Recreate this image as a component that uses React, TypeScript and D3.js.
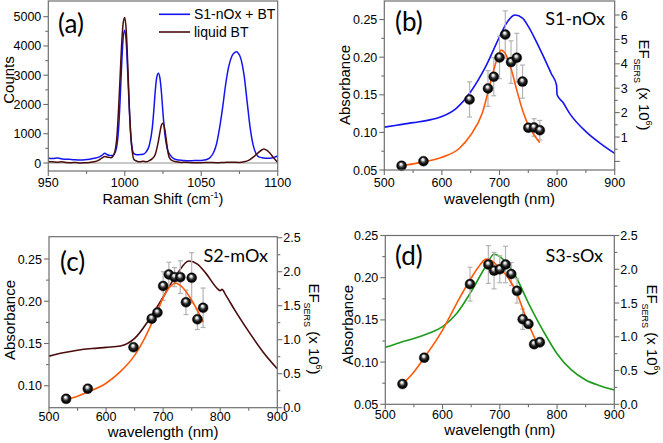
import React from "react";
import * as d3 from "d3";

type Pt = [number, number];

// ---------- (a) Raman spectra ----------
const ramanBlue: Pt[] = [
  [950, 160], [953, 150], [956, 170], [959, 140], [962, 130], [965, 120], [968, 110], [971, 100],
  [974, 110], [977, 130], [980, 160], [983, 200], [985, 260], [987, 330], [988, 300], [990, 260],
  [992, 260], [994, 400], [996, 1200], [997, 2200], [998, 3400], [999, 4300], [1000, 4540],
  [1001, 4100], [1002, 3000], [1003, 1800], [1004, 900], [1005, 450], [1006, 320], [1008, 280],
  [1010, 290], [1012, 300], [1014, 380], [1016, 600], [1018, 1200], [1019, 1800], [1020, 2500],
  [1021, 2950], [1022, 3070], [1023, 2900], [1024, 2400], [1025, 1700], [1026, 1100], [1027, 700],
  [1028, 450], [1030, 250], [1032, 150], [1035, 100], [1038, 90], [1041, 80], [1044, 80], [1047, 90],
  [1050, 90], [1052, 100], [1054, 130], [1056, 200], [1058, 350], [1060, 650], [1062, 1200],
  [1064, 1900], [1066, 2700], [1068, 3300], [1070, 3650], [1072, 3780], [1073, 3800], [1074, 3770],
  [1076, 3550], [1078, 3000], [1080, 2100], [1082, 1200], [1084, 600], [1086, 300], [1088, 200],
  [1090, 180], [1093, 160], [1096, 170], [1098, 200], [1100, 240],
];
const ramanBrown: Pt[] = [
  [950, 50], [953, 40], [956, 30], [959, 40], [962, 20], [965, 10], [968, 20], [971, 0], [974, 10],
  [977, 20], [980, 40], [983, 100], [985, 170], [987, 220], [989, 200], [991, 180], [993, 300],
  [995, 1000], [996, 1900], [997, 3000], [998, 4100], [999, 4800], [1000, 4970], [1001, 4500],
  [1002, 3300], [1003, 1900], [1004, 900], [1005, 350], [1006, 120], [1008, 60], [1010, 40],
  [1012, 60], [1014, 40], [1016, 80], [1018, 150], [1020, 300], [1021, 500], [1022, 750],
  [1023, 1050], [1024, 1300], [1025, 1360], [1026, 1200], [1027, 850], [1028, 450], [1029, 200],
  [1031, 80], [1034, 40], [1037, 20], [1040, 30], [1045, 10], [1050, 10], [1055, 20], [1060, 10],
  [1065, 20], [1070, 30], [1075, 20], [1078, 40], [1081, 90], [1084, 200], [1087, 340], [1090, 460],
  [1091, 480], [1093, 430], [1095, 330], [1097, 200], [1099, 80], [1100, 30],
];
const legendA = ["S1-nOx + BT", "liquid BT"];
const countTicks = [0, 1000, 2000, 3000, 4000, 5000];
const shiftTicks = [950, 1000, 1050, 1100];

// ---------- shared ----------
const wlTicks = [500, 600, 700, 800, 900];
const efWavelengths = [530, 568, 648, 680, 690, 700, 710, 720, 730, 740, 750, 760, 770];

// ---------- (b) S1-nOx ----------
const absorbanceB: Pt[] = [
  [500, 0.107], [525, 0.11], [550, 0.113], [575, 0.116], [600, 0.121], [625, 0.132], [650, 0.154],
  [675, 0.186], [700, 0.227], [712, 0.245], [727, 0.256], [740, 0.252], [750, 0.241], [765, 0.219],
  [775, 0.203], [790, 0.178], [799, 0.163], [800, 0.15], [810, 0.14], [822, 0.125], [850, 0.101],
  [875, 0.0854], [900, 0.072],
];
const efValuesB = [-0.18, 0.01, 2.54, 2.99, 3.47, 4.26, 5.2, 4.07, 4.25, 3.27, 1.38, 1.39, 1.28];
const efErrorsB = [0, 0, 0.72, 0.73, 0.78, 0.87, 0.97, 0.87, 1.0, 0.68, 0.15, 0.36, 0.4];
const efFitB: Pt[] = [
  [530, -0.18], [550, -0.1], [568, -0.02], [600, 0.17], [630, 0.53], [650, 1.08], [670, 1.97],
  [685, 3.3], [695, 4.15], [703, 4.56], [710, 4.43], [720, 3.81], [730, 2.92], [740, 2.1],
  [750, 1.49], [760, 1.08], [770, 0.77],
];
const absTicksB = [0.05, 0.1, 0.15, 0.2, 0.25];
const efTicksB = [1, 2, 3, 4, 5, 6];

// ---------- (c) S2-mOx ----------
const absorbanceC: Pt[] = [
  [500, 0.135], [525, 0.139], [550, 0.142], [575, 0.144], [600, 0.1454], [625, 0.147], [650, 0.156],
  [675, 0.178], [700, 0.205], [725, 0.233], [745, 0.2476], [760, 0.244], [775, 0.233], [795, 0.215],
  [800, 0.2125], [803, 0.214], [810, 0.207], [825, 0.19], [850, 0.164], [875, 0.14], [900, 0.12],
];
const efValuesC = [0.13, 0.28, 0.89, 1.31, 1.4, 1.79, 1.96, 1.92, 1.92, 1.55, 1.91, 1.3, 1.47];
const efErrorsC = [0.02, 0.03, 0.05, 0.04, 0.06, 0.21, 0.18, 0.14, 0.24, 0.18, 0.37, 0.15, 0.29];
const efFitC: Pt[] = [
  [530, 0.12], [550, 0.17], [568, 0.23], [600, 0.36], [625, 0.53], [650, 0.77], [665, 0.98],
  [680, 1.24], [690, 1.42], [700, 1.62], [712, 1.78], [722, 1.83], [735, 1.76], [750, 1.58],
  [760, 1.43], [770, 1.26],
];
const absTicksC = [0.1, 0.15, 0.2, 0.25];
const efTicksCD = [0, 0.5, 1, 1.5, 2, 2.5];

// ---------- (d) S3-sOx ----------
const absorbanceD: Pt[] = [
  [500, 0.1175], [525, 0.123], [550, 0.128], [575, 0.134], [600, 0.142], [625, 0.158],
  [650, 0.1835], [675, 0.213], [690, 0.2277], [700, 0.225], [712, 0.217], [725, 0.205],
  [750, 0.17], [775, 0.138], [800, 0.11], [825, 0.0907], [850, 0.0788], [875, 0.072], [900, 0.067],
];
const efValuesD = [0.3, 0.69, 1.78, 2.07, 1.98, 2.0, 2.07, 1.93, 1.68, 1.26, 1.19, 0.89, 0.92];
const efErrorsD = [0.02, 0.05, 0.25, 0.28, 0.27, 0.2, 0.27, 0.17, 0.18, 0.15, 0.06, 0.05, 0.07];
const efFitD: Pt[] = [
  [530, 0.3], [550, 0.48], [568, 0.69], [600, 1.1], [625, 1.5], [650, 1.87], [665, 2.06],
  [676, 2.15], [690, 2.1], [700, 2.01], [715, 1.87], [730, 1.64], [745, 1.3], [760, 1.0], [768, 0.88],
];
const absTicksD = [0.05, 0.1, 0.15, 0.2, 0.25];

// ---------- styling ----------
const FONT = "'Liberation Sans', Arial, sans-serif";
const LFONT = "Lato, 'Open Sans', sans-serif";
const AXIS = "#6e6e6e";
const BLUE = "#1414f0";
const BROWN = "#4a0c0c";
const ORANGE = "#ff5a0a";
const GREEN = "#1c9a1c";
const ERR = "#b4b4b4";

const mid = (a: number[]) => a.slice(0, -1).map((v, i) => (v + a[i + 1]) / 2);

type Scale = d3.ScaleLinear<number, number>;

function Frame({ x, y }: { x: Scale; y: Scale }) {
  const [x0, x1] = x.range();
  const [y1, y0] = y.range();
  return <rect x={x0} y={y0} width={x1 - x0} height={y1 - y0} fill="none" stroke={AXIS} strokeWidth={1.2} />;
}

function LeftAxis({ x, y, ticks, minor, fmt }: { x: Scale; y: Scale; ticks: number[]; minor: number[]; fmt: (v: number) => string }) {
  const x0 = x.range()[0];
  return (
    <g>
      {minor.map((t) => <line key={"m" + t} x1={x0 - 3} x2={x0} y1={y(t)} y2={y(t)} stroke={AXIS} strokeWidth={1.1} />)}
      {ticks.map((t) => (
        <g key={t}>
          <line x1={x0 - 5} x2={x0} y1={y(t)} y2={y(t)} stroke={AXIS} strokeWidth={1.1} />
          <text x={x0 - 7} y={y(t)} dy="0.36em" textAnchor="end" fontSize={12.5} fontFamily={FONT}>{fmt(t)}</text>
        </g>
      ))}
    </g>
  );
}

function RightAxis({ x, y, ticks, labels, minor, fmt }: { x: Scale; y: Scale; ticks: number[]; labels: number[]; minor: number[]; fmt: (v: number) => string }) {
  const x1 = x.range()[1];
  return (
    <g>
      {minor.map((t) => <line key={"m" + t} x1={x1} x2={x1 + 3} y1={y(t)} y2={y(t)} stroke={AXIS} strokeWidth={1.1} />)}
      {ticks.map((t) => <line key={t} x1={x1} x2={x1 + 5} y1={y(t)} y2={y(t)} stroke={AXIS} strokeWidth={1.1} />)}
      {labels.map((t) => (
        <text key={"l" + t} x={x1 + 6} y={y(t)} dy="0.36em" textAnchor="start" fontSize={12.5} fontFamily={FONT}>{fmt(t)}</text>
      ))}
    </g>
  );
}

function BottomAxis({ x, y, ticks, minor, labelY }: { x: Scale; y: Scale; ticks: number[]; minor: number[]; labelY: number }) {
  const y1 = y.range()[0];
  return (
    <g>
      {minor.map((t) => <line key={"m" + t} x1={x(t)} x2={x(t)} y1={y1} y2={y1 + 3} stroke={AXIS} strokeWidth={1.1} />)}
      {ticks.map((t) => (
        <g key={t}>
          <line x1={x(t)} x2={x(t)} y1={y1} y2={y1 + 5} stroke={AXIS} strokeWidth={1.1} />
          <text x={x(t)} y={labelY} textAnchor="middle" fontSize={12.5} fontFamily={FONT}>{t}</text>
        </g>
      ))}
    </g>
  );
}

function EFTitle({ cx, cy }: { cx: number; cy: number }) {
  return (
    <text transform={`translate(${cx - 5},${cy}) rotate(90)`} textAnchor="middle" fontSize={15} fontFamily={FONT}>
      EF
      <tspan fontSize={9} dy={5}>SERS</tspan>
      <tspan fontSize={15} dy={-5}> (x 10</tspan>
      <tspan fontSize={9} dy={-7}>6</tspan>
      <tspan fontSize={15} dy={7}>)</tspan>
    </text>
  );
}

function Sphere({ cx, cy }: { cx: number; cy: number }) {
  return <circle cx={cx} cy={cy} r={5} fill="url(#sphere)" stroke="#000" strokeWidth={0.4} />;
}

type PanelProps = {
  box: { x0: number; x1: number; y0: number; y1: number };
  absDomain: [number, number];
  efDomain: [number, number];
  absorbance: Pt[];
  absColor: string;
  efValues: number[];
  efErrors: number[];
  efFit: Pt[];
  absTicks: number[];
  efTicks: number[];
  efLabels: number[];
  efFmt: (v: number) => string;
  letter: string;
  letterPos: [number, number];
  sample: string;
  samplePos: [number, number];
  tickLabelY: number;
  titleY: number;
  absTitle: [number, number];
  efTitle: [number, number];
};

function SpectrumPanel(p: PanelProps) {
  const x = d3.scaleLinear().domain([500, 900]).range([p.box.x0, p.box.x1]);
  const yA = d3.scaleLinear().domain(p.absDomain).range([p.box.y1, p.box.y0]);
  const yE = d3.scaleLinear().domain(p.efDomain).range([p.box.y1, p.box.y0]);
  const absLine = d3.line<Pt>().x((d) => x(d[0])).y((d) => yA(d[1])).curve(d3.curveMonotoneX);
  const fitLine = d3.line<Pt>().x((d) => x(d[0])).y((d) => yE(d[1])).curve(d3.curveMonotoneX);
  const absMinor = mid(p.absTicks);
  const wlMinor = mid(wlTicks);
  const efMinorAll = [...mid(p.efTicks)];
  return (
    <g>
      <path d={absLine(p.absorbance) || ""} fill="none" stroke={p.absColor} strokeWidth={1.6} />
      {efWavelengths.map((w, i) =>
        p.efErrors[i] > 0.03 ? (
          <g key={"e" + w} stroke={ERR} strokeWidth={1.2}>
            <line x1={x(w)} x2={x(w)} y1={yE(p.efValues[i] - p.efErrors[i])} y2={yE(p.efValues[i] + p.efErrors[i])} />
            <line x1={x(w) - 2.5} x2={x(w) + 2.5} y1={yE(p.efValues[i] - p.efErrors[i])} y2={yE(p.efValues[i] - p.efErrors[i])} />
            <line x1={x(w) - 2.5} x2={x(w) + 2.5} y1={yE(p.efValues[i] + p.efErrors[i])} y2={yE(p.efValues[i] + p.efErrors[i])} />
          </g>
        ) : null
      )}
      <path d={fitLine(p.efFit) || ""} fill="none" stroke={ORANGE} strokeWidth={1.6} />
      {efWavelengths.map((w, i) => <Sphere key={"s" + w} cx={x(w)} cy={yE(p.efValues[i])} />)}
      <Frame x={x} y={yA} />
      <LeftAxis x={x} y={yA} ticks={p.absTicks} minor={absMinor} fmt={(v) => v.toFixed(2)} />
      <RightAxis x={x} y={yE} ticks={p.efTicks} labels={p.efLabels} minor={efMinorAll} fmt={p.efFmt} />
      <BottomAxis x={x} y={yA} ticks={wlTicks} minor={wlMinor} labelY={p.tickLabelY} />
      <text x={(p.box.x0 + p.box.x1) / 2} y={p.titleY} textAnchor="middle" fontSize={15} fontFamily={FONT}>wavelength (nm)</text>
      <text transform={`translate(${p.absTitle[0]},${p.absTitle[1]}) rotate(-90)`} textAnchor="middle" fontSize={15} fontFamily={FONT}>Absorbance</text>
      <EFTitle cx={p.efTitle[0]} cy={p.efTitle[1]} />
      <text x={p.letterPos[0]} y={p.letterPos[1]} fontSize={26} fontFamily={LFONT}>{p.letter}</text>
      <text x={p.samplePos[0]} y={p.samplePos[1]} textAnchor="end" fontSize={18} fontFamily={LFONT}>{p.sample}</text>
    </g>
  );
}

function RamanPanel() {
  const x = d3.scaleLinear().domain([950, 1100]).range([48.3, 277.7]);
  const y = d3.scaleLinear().domain([-273, 5536]).range([171, 1]);
  const line = d3.line<Pt>().x((d) => x(d[0])).y((d) => y(d[1])).curve(d3.curveMonotoneX);
  return (
    <g>
      <line x1={x(950)} x2={x(1100)} y1={y(0)} y2={y(0)} stroke="#777" strokeWidth={0.8} />
      <path d={line(ramanBlue) || ""} fill="none" stroke={BLUE} strokeWidth={1.5} />
      <path d={line(ramanBrown) || ""} fill="none" stroke={BROWN} strokeWidth={1.5} />
      <Frame x={x} y={y} />
      <LeftAxis x={x} y={y} ticks={countTicks} minor={mid(countTicks)} fmt={(v) => String(v)} />
      <BottomAxis x={x} y={y} ticks={shiftTicks} minor={mid(shiftTicks)} labelY={186.5} />
      <text x={163} y={203.5} textAnchor="middle" fontSize={14.5} fontFamily={FONT}>
        Raman Shift  (cm<tspan fontSize={9} dy={-6}>-1</tspan><tspan dy={6}>)</tspan>
      </text>
      <text transform="translate(13.5,80) rotate(-90)" textAnchor="middle" fontSize={15} fontFamily={FONT}>Counts</text>
      <line x1={159} x2={190} y1={14.3} y2={14.3} stroke={BLUE} strokeWidth={1.6} />
      <text x={194} y={19.3} fontSize={14} fontFamily={FONT}>{legendA[0]}</text>
      <line x1={159} x2={190} y1={32} y2={32} stroke={BROWN} strokeWidth={1.6} />
      <text x={194} y={37} fontSize={14} fontFamily={FONT}>{legendA[1]}</text>
      <text x={58} y={33} fontSize={26} fontFamily={LFONT}>(a)</text>
    </g>
  );
}

export default function App() {
  return (
    <svg width={663} height={443} style={{ position: "absolute", left: 0, top: 0, background: "#fff" }}>
      <defs>
        <radialGradient id="sphere" cx="50%" cy="50%" r="50%" fx="42%" fy="30%">
          <stop offset="0" stopColor="#ffffff" />
          <stop offset="0.22" stopColor="#d8d8d8" />
          <stop offset="0.5" stopColor="#3a3a3a" />
          <stop offset="0.8" stopColor="#000000" />
          <stop offset="1" stopColor="#1a1a1a" />
        </radialGradient>
      </defs>
      <RamanPanel />
      <SpectrumPanel
        box={{ x0: 384.3, x1: 614.7, y0: 1, y1: 170 }}
        absDomain={[0.05, 0.2747]}
        efDomain={[-0.352, 6.574]}
        absorbance={absorbanceB}
        absColor={BLUE}
        efValues={efValuesB}
        efErrors={efErrorsB}
        efFit={efFitB}
        absTicks={absTicksB}
        efTicks={[0, ...efTicksB]}
        efLabels={efTicksB}
        efFmt={(v) => String(v)}
        letter="(b)"
        letterPos={[395, 31]}
        sample="S1-nOx"
        samplePos={[605, 25]}
        tickLabelY={186.5}
        titleY={204}
        absTitle={[350, 85]}
        efTitle={[644, 85]}
      />
      <SpectrumPanel
        box={{ x0: 49, x1: 277.3, y0: 236.7, y1: 407.7 }}
        absDomain={[0.074, 0.2764]}
        efDomain={[0, 2.515]}
        absorbance={absorbanceC}
        absColor={BROWN}
        efValues={efValuesC}
        efErrors={efErrorsC}
        efFit={efFitC}
        absTicks={absTicksC}
        efTicks={efTicksCD}
        efLabels={efTicksCD}
        efFmt={(v) => v.toFixed(1)}
        letter="(c)"
        letterPos={[60, 271]}
        sample="S2-mOx"
        samplePos={[268, 261.5]}
        tickLabelY={421}
        titleY={437}
        absTitle={[15, 320]}
        efTitle={[314, 329]}
      />
      <SpectrumPanel
        box={{ x0: 385.3, x1: 614.3, y0: 235.5, y1: 404.3 }}
        absDomain={[0.05, 0.25]}
        efDomain={[0, 2.5]}
        absorbance={absorbanceD}
        absColor={GREEN}
        efValues={efValuesD}
        efErrors={efErrorsD}
        efFit={efFitD}
        absTicks={absTicksD}
        efTicks={efTicksCD}
        efLabels={efTicksCD}
        efFmt={(v) => v.toFixed(1)}
        letter="(d)"
        letterPos={[395, 264.5]}
        sample="S3-sOx"
        samplePos={[603, 261.5]}
        tickLabelY={419}
        titleY={434.5}
        absTitle={[353, 325]}
        efTitle={[652, 330]}
      />
    </svg>
  );
}
